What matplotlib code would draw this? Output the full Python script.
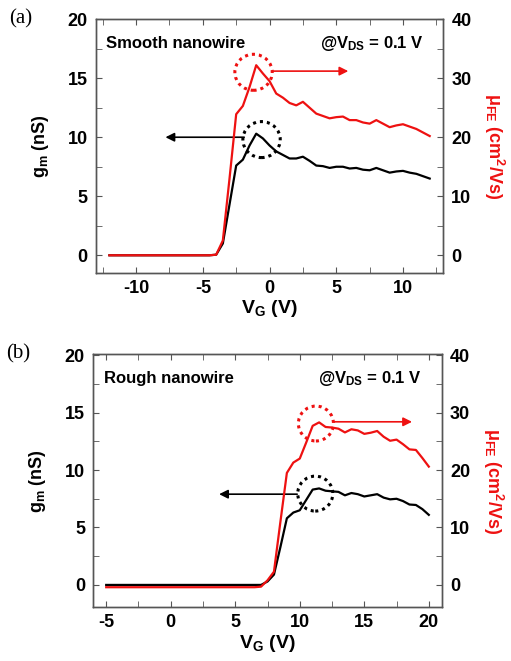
import matplotlib
matplotlib.use("Agg")
import matplotlib.pyplot as plt
from matplotlib.patches import Ellipse
from matplotlib.ticker import MultipleLocator

plt.rcParams['font.family'] = ['Liberation Sans', 'DejaVu Sans']
plt.rcParams['font.weight'] = 'bold'
plt.rcParams['axes.unicode_minus'] = False
plt.rcParams['mathtext.fontset'] = 'custom'
plt.rcParams['mathtext.rm'] = 'Liberation Sans:bold'
plt.rcParams['mathtext.it'] = 'Liberation Sans:bold'
plt.rcParams['mathtext.bf'] = 'Liberation Sans:bold'

# ---- panel (a): smooth nanowire ----
vg_a = [-12.0, -11.5, -11.0, -10.5, -10.0, -9.5, -9.0, -8.5, -8.0, -7.5, -7.0, -6.5,
        -6.0, -5.5, -5.0, -4.5, -4.0, -3.5, -3.0, -2.5, -2.0, -1.5, -1.0, -0.5,
        0.0, 0.5, 1.0, 1.5, 2.0, 2.5, 3.0, 3.5, 4.0, 4.5, 5.0, 5.5,
        6.0, 6.5, 7.0, 7.5, 8.0, 8.5, 9.0, 9.5, 10.0, 10.5, 11.0, 11.5, 12.0]
gm_a = [0, 0, 0, 0, 0, 0, 0, 0, 0, 0, 0, 0,
        0, 0, 0, 0, 0.05, 1.0, 4.3, 7.6, 8.1, 9.3, 10.3, 9.9,
        9.3, 8.8, 8.5, 8.2, 8.2, 8.35, 8.0, 7.6, 7.55, 7.4, 7.5, 7.5,
        7.35, 7.4, 7.25, 7.2, 7.4, 7.2, 7.0, 7.1, 7.15, 7.0, 6.9, 6.7, 6.5]
mu_a = [0, 0, 0, 0, 0, 0, 0, 0, 0, 0, 0, 0,
        0, 0, 0, 0, 0.1, 2.5, 13.0, 23.9, 25.3, 28.5, 32.2, 30.8,
        29.5, 27.4, 26.7, 25.8, 25.4, 26.0, 25.0, 24.0, 23.6, 23.2, 23.4, 23.5,
        22.9, 22.9, 22.5, 22.3, 22.9, 22.3, 21.7, 22.0, 22.2, 21.8, 21.4, 20.8, 20.2]

# ---- panel (b): rough nanowire ----
vg_b = [-5.0, -4.5, -4.0, -3.5, -3.0, -2.5, -2.0, -1.5, -1.0, -0.5, 0.0, 0.5,
        1.0, 1.5, 2.0, 2.5, 3.0, 3.5, 4.0, 4.5, 5.0, 5.5, 6.0, 6.5,
        7.0, 7.5, 8.0, 8.5, 9.0, 9.5, 10.0, 10.5, 11.0, 11.5, 12.0, 12.5,
        13.0, 13.5, 14.0, 14.5, 15.0, 15.5, 16.0, 16.5, 17.0, 17.5, 18.0, 18.5,
        19.0, 19.5, 20.0]
gm_b = [0, 0, 0, 0, 0, 0, 0, 0, 0, 0, 0, 0,
        0, 0, 0, 0, 0, 0, 0, 0, 0, 0, 0, 0,
        0.0, 0.3, 0.9, 3.3, 5.8, 6.3, 6.5, 7.4, 8.3, 8.4, 8.2, 8.15,
        8.1, 7.8, 8.0, 7.9, 7.7, 7.8, 7.9, 7.6, 7.45, 7.5, 7.3, 7.0,
        6.96, 6.6, 6.1]
mu_b = [-0.4, -0.4, -0.4, -0.4, -0.4, -0.4, -0.4, -0.4, -0.4, -0.4, -0.4, -0.4,
        -0.4, -0.4, -0.4, -0.4, -0.4, -0.4, -0.4, -0.4, -0.4, -0.4, -0.4, -0.4,
        -0.3, 0.8, 2.3, 11.0, 19.5, 21.3, 22.0, 24.8, 27.7, 28.3, 27.5, 27.4,
        27.2, 26.55, 27.1, 26.9, 26.3, 26.5, 26.8, 25.8, 25.1, 25.3, 24.5, 23.6,
        23.5, 22.1, 20.6]

RED = '#ee1111'
SPINE = '#555555'

fig = plt.figure(figsize=(5.11, 6.61), dpi=100)


def panel(rect, vg, gm, mu, xlim, ylim, xmajor, name, letter, circ_r, circ_k,
          arr_r, arr_k, cw, ch):
    ax = fig.add_axes(rect)
    ax2 = ax.twinx()
    ax.plot(vg, gm, color='black', lw=1.6, zorder=3)
    ax2.plot(vg, mu, color=RED, lw=1.6, zorder=3)

    ax.set_xlim(*xlim)
    ax.set_ylim(*ylim)
    ax2.set_ylim(ylim[0] * 2, ylim[1] * 2)
    ax.xaxis.set_major_locator(MultipleLocator(xmajor))
    ax.xaxis.set_minor_locator(MultipleLocator(xmajor / 2))
    ax.yaxis.set_major_locator(MultipleLocator(5))
    ax.yaxis.set_minor_locator(MultipleLocator(2.5))
    ax2.yaxis.set_major_locator(MultipleLocator(10))
    ax2.yaxis.set_minor_locator(MultipleLocator(5))

    for a in (ax, ax2):
        for s in a.spines.values():
            s.set_color(SPINE)
            s.set_linewidth(1.0)
    ax.tick_params(axis='x', which='both', direction='in', top=True,
                   color=SPINE, labelsize=13, pad=5, length=4)
    ax.tick_params(axis='y', which='both', direction='in', color=SPINE,
                   labelsize=13, pad=6, length=4)
    ax2.tick_params(axis='y', which='both', direction='in', color=SPINE,
                    labelsize=13, pad=6, length=4)

    ax.set_xlabel(r'V$_\mathrm{G}$ (V)', fontsize=14, fontweight='bold', labelpad=1)
    ax.set_ylabel(r'g$_\mathrm{m}$ (nS)', fontsize=13, fontweight='bold', labelpad=12)
    ax2.set_ylabel(r'$\mu_\mathrm{FE}$ (cm$^\mathrm{2}$/Vs)', fontsize=13,
                   fontweight='bold', color=RED, rotation=270, labelpad=25)

    ax.text(0.03, 0.905, name, transform=ax.transAxes, fontsize=12,
            fontweight='bold', va='center', ha='left')
    ax.text(0.645, 0.905, r'@V$_\mathrm{DS}$ = 0.1 V', transform=ax.transAxes,
            fontsize=12, fontweight='bold', va='center', ha='left')
    ax.text(-0.25, 1.0, letter, transform=ax.transAxes, fontsize=15,
            fontweight='normal', family='Liberation Serif', va='center', ha='left')

    ax.add_patch(Ellipse(circ_r, cw, ch, fill=False, ec=RED, lw=2.2, ls=(0, (1, 1.3)),
                         zorder=4))
    ax.add_patch(Ellipse(circ_k, cw, ch, fill=False, ec='black', lw=2.2,
                         ls=(0, (1, 1.3)), zorder=4))
    ax.annotate('', xy=arr_r[1], xytext=arr_r[0],
                arrowprops=dict(arrowstyle='-|>', color=RED, lw=1.2,
                                mutation_scale=13, shrinkA=0, shrinkB=0))
    ax.annotate('', xy=arr_k[1], xytext=arr_k[0],
                arrowprops=dict(arrowstyle='-|>', color='black', lw=1.2,
                                mutation_scale=13, shrinkA=0, shrinkB=0))
    return ax


panel([0.188, 0.587, 0.679, 0.384], vg_a, gm_a, mu_a, (-13, 13), (-1.5, 20), 5,
      'Smooth nanowire', '(a)', (-1.2, 15.5), (-0.6, 9.8),
      ((0.2, 15.6), (5.9, 15.6)), ((-1.9, 10.0), (-7.8, 10.0)), 2.8, 3.05)
panel([0.1826, 0.0812, 0.6818, 0.3832], vg_b, gm_b, mu_b, (-6, 21), (-1.95, 20.1), 5,
      'Rough nanowire', '(b)', (11.25, 14.05), (11.2, 7.95),
      ((12.65, 14.2), (18.7, 14.2)), ((9.8, 7.9), (3.75, 7.9)), 2.72, 3.04)

fig.savefig('out.png', dpi=100)
